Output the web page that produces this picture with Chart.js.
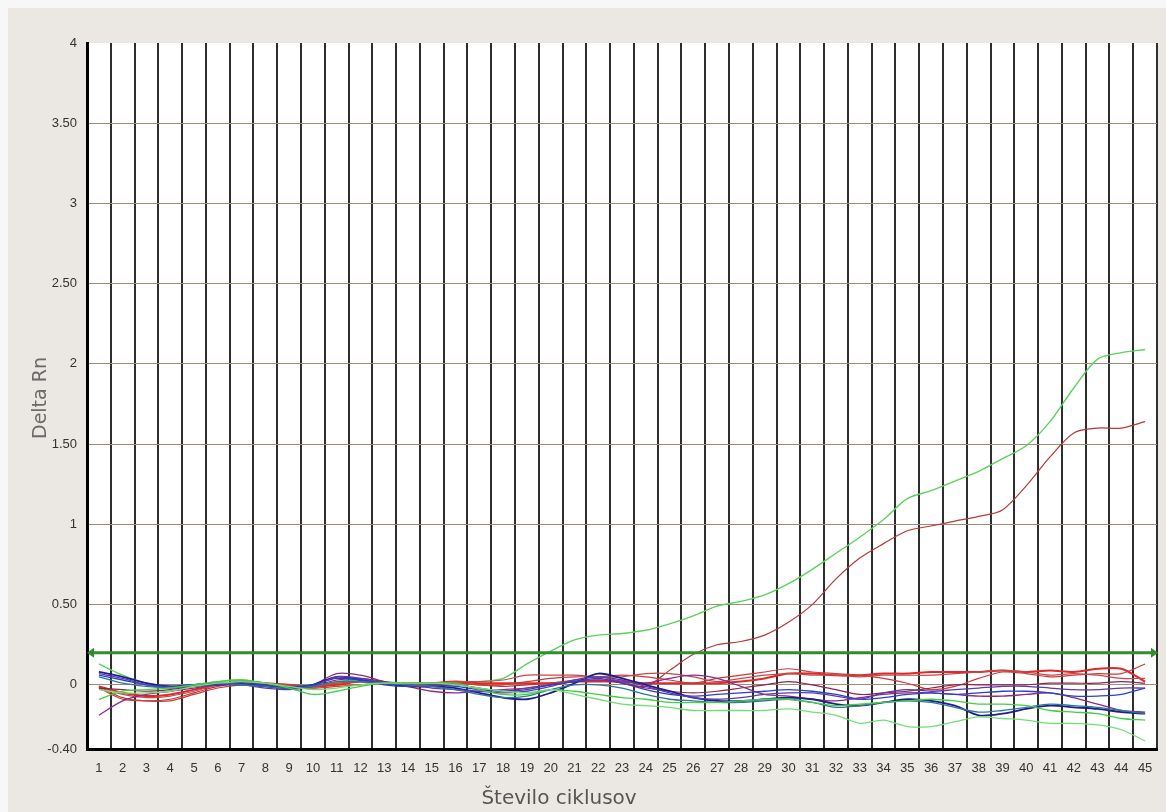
<!DOCTYPE html>
<html>
<head>
<meta charset="utf-8">
<title>Delta Rn</title>
<script src="https://cdn.jsdelivr.net/npm/chart.js@4.4.1/dist/chart.umd.min.js"></script>
<style>
  html, body { margin: 0; padding: 0; background: #f7f7f7; }
  canvas { display: block; }
</style>
</head>
<body>
<canvas id="chart" width="1166" height="812"></canvas>
<script>
// Amplification cycles (x categories)
const cycles = ['1','2','3','4','5','6','7','8','9','10','11','12','13','14','15',
  '16','17','18','19','20','21','22','23','24','25','26','27','28','29','30',
  '31','32','33','34','35','36','37','38','39','40','41','42','43','44','45'];

// Y axis ticks and their printed labels
const yTickValues = [-0.4, 0, 0.5, 1, 1.5, 2, 2.5, 3, 3.5, 4];
const yTickLabels = ['-0.40', '0', '0.50', '1', '1.50', '2', '2.50', '3', '3.50', '4'];

// Threshold level
const THRESHOLD = 0.2;

// Delta Rn per cycle, one array per well
const greenHigh = [0.13,0.06,0.01,-0.01,0.00,0.02,0.03,0.01,-0.01,-0.02,
  0.02,0.03,0.02,0.01,0.01,0.01,0.02,0.04,0.13,0.21,
  0.28,0.31,0.32,0.34,0.38,0.43,0.49,0.52,0.56,0.63,
  0.72,0.82,0.92,1.03,1.16,1.21,1.27,1.33,1.41,1.49,
  1.64,1.85,2.03,2.07,2.09];
const redHigh = [-0.01,-0.08,-0.10,-0.09,-0.05,-0.01,0.01,0.00,-0.01,-0.01,
  0.01,0.02,0.01,0.00,0.00,0.01,0.00,-0.01,0.00,0.01,
  0.03,0.05,0.02,-0.01,0.09,0.19,0.25,0.27,0.31,0.39,
  0.50,0.66,0.79,0.88,0.96,0.99,1.02,1.05,1.09,1.24,
  1.42,1.57,1.60,1.60,1.64];
const red1 = [-0.01,-0.05,-0.07,-0.06,-0.03,0.00,0.02,0.01,0.00,-0.01,
  0.00,0.02,0.01,0.01,0.01,0.02,0.01,0.01,0.01,0.01,
  0.02,0.02,0.02,0.01,0.01,0.01,0.01,0.02,0.04,0.07,
  0.07,0.06,0.06,0.07,0.07,0.08,0.08,0.08,0.09,0.08,
  0.09,0.08,0.10,0.10,0.02];
const red2 = [-0.02,-0.09,-0.10,-0.10,-0.06,-0.02,0.00,0.00,-0.01,-0.02,
  -0.01,0.00,0.01,0.00,0.00,0.01,0.00,0.00,0.02,0.04,
  0.05,0.05,0.06,0.05,0.03,0.01,0.04,0.06,0.08,0.10,
  0.08,0.07,0.06,0.04,0.01,-0.03,-0.01,0.04,0.08,0.07,
  0.05,0.06,0.07,0.07,0.13];
const red3 = [-0.01,-0.06,-0.08,-0.07,-0.04,0.00,0.01,0.01,0.00,-0.01,
  0.01,0.02,0.01,0.00,0.01,0.02,0.02,0.03,0.06,0.06,
  0.06,0.05,0.05,0.07,0.07,0.05,0.02,0.04,0.06,0.07,
  0.06,0.06,0.05,0.06,0.06,0.06,0.07,0.08,0.09,0.08,
  0.06,0.07,0.06,0.04,0.04];
const maroon = [-0.02,-0.03,-0.04,-0.03,-0.01,0.00,0.01,0.00,-0.02,-0.01,
  0.03,0.04,0.02,0.00,-0.01,0.00,-0.02,-0.04,-0.02,0.00,
  0.02,0.03,0.01,-0.02,-0.04,-0.05,-0.04,-0.02,0.00,0.02,
  0.00,-0.03,-0.06,-0.05,-0.04,-0.02,0.00,0.00,0.00,0.00,
  0.01,0.01,0.01,0.02,0.01];
const purple = [-0.19,-0.10,-0.06,-0.04,-0.02,0.00,0.00,-0.01,-0.02,0.00,
  0.07,0.06,0.02,-0.01,-0.04,-0.05,-0.04,-0.03,-0.02,0.00,
  0.02,0.03,0.02,0.01,0.04,0.06,0.04,-0.01,-0.06,-0.07,
  -0.09,-0.10,-0.08,-0.06,-0.05,-0.05,-0.06,-0.07,-0.07,-0.06,
  -0.05,-0.08,-0.12,-0.16,-0.17];
const navy = [0.08,0.05,0.01,-0.01,0.00,0.00,0.01,-0.01,-0.02,0.00,
  0.05,0.03,0.01,-0.01,-0.01,-0.02,-0.05,-0.08,-0.09,-0.05,
  0.01,0.07,0.04,0.00,-0.04,-0.08,-0.10,-0.10,-0.09,-0.08,
  -0.09,-0.12,-0.13,-0.11,-0.09,-0.10,-0.13,-0.19,-0.18,-0.15,
  -0.13,-0.14,-0.15,-0.17,-0.18];
const blue = [0.06,0.03,0.00,-0.01,0.00,0.01,0.01,0.00,-0.01,0.00,
  0.04,0.03,0.00,-0.01,0.00,-0.01,-0.03,-0.04,-0.03,0.00,
  0.02,0.04,0.01,-0.03,-0.06,-0.07,-0.06,-0.05,-0.04,-0.03,
  -0.04,-0.06,-0.09,-0.08,-0.06,-0.05,-0.06,-0.05,-0.04,-0.04,
  -0.05,-0.07,-0.07,-0.06,-0.02];
const steel = [0.05,0.01,-0.01,-0.02,0.00,0.01,0.00,-0.01,-0.02,-0.01,
  0.02,0.02,0.01,0.00,-0.01,-0.03,-0.06,-0.08,-0.07,-0.03,
  0.00,0.00,-0.02,-0.06,-0.09,-0.10,-0.11,-0.11,-0.10,-0.09,
  -0.11,-0.14,-0.13,-0.11,-0.10,-0.11,-0.14,-0.17,-0.16,-0.14,
  -0.12,-0.13,-0.14,-0.16,-0.18];
const green2 = [-0.09,-0.04,-0.03,-0.02,0.00,0.02,0.03,0.01,-0.02,-0.06,
  -0.04,-0.01,0.01,0.01,0.01,0.01,-0.03,-0.06,-0.06,-0.03,
  -0.04,-0.06,-0.08,-0.09,-0.11,-0.11,-0.11,-0.10,-0.09,-0.09,
  -0.11,-0.13,-0.12,-0.11,-0.10,-0.09,-0.10,-0.12,-0.12,-0.13,
  -0.16,-0.17,-0.18,-0.21,-0.22];
const green3 = [-0.03,-0.05,-0.05,-0.04,-0.01,0.01,0.02,0.01,-0.01,-0.03,
  -0.02,0.00,0.01,0.01,0.01,0.00,-0.02,-0.04,-0.05,-0.03,
  -0.06,-0.09,-0.12,-0.13,-0.14,-0.16,-0.16,-0.16,-0.16,-0.15,
  -0.17,-0.19,-0.24,-0.22,-0.26,-0.26,-0.23,-0.20,-0.21,-0.22,
  -0.24,-0.24,-0.25,-0.28,-0.35];
const violet = [0.07,0.04,0.00,-0.02,-0.01,0.00,0.00,-0.02,-0.03,-0.01,
  0.05,0.04,0.01,0.00,-0.02,-0.03,-0.04,-0.05,-0.04,-0.01,
  0.03,0.05,0.03,-0.01,-0.05,-0.08,-0.09,-0.08,-0.06,-0.05,
  -0.05,-0.07,-0.09,-0.05,-0.03,-0.04,-0.03,-0.02,-0.01,-0.01,
  -0.02,-0.03,-0.03,-0.02,-0.02];

// Well traces: data, colour, stroke width
const wells = [
  { label: 'A1', data: green3,    color: '#74de74', width: 1.3 },
  { label: 'A2', data: green2,    color: '#46cc46', width: 1.3 },
  { label: 'A3', data: steel,     color: '#2f7898', width: 1.3 },
  { label: 'A4', data: violet,    color: '#5a3cb0', width: 1.3 },
  { label: 'A5', data: blue,      color: '#2a40cc', width: 1.3 },
  { label: 'A6', data: navy,      color: '#1e1e8a', width: 1.8 },
  { label: 'A7', data: purple,    color: '#8a2c8a', width: 1.3 },
  { label: 'A8', data: maroon,    color: '#8c2450', width: 1.2 },
  { label: 'A9', data: red3,      color: '#c44a4a', width: 1.2 },
  { label: 'B1', data: red2,      color: '#cc3a3a', width: 1.2 },
  { label: 'B2', data: red1,      color: '#e02828', width: 2.0 },
  { label: 'B3', data: redHigh,   color: '#b23a3a', width: 1.2 },
  { label: 'B4', data: greenHigh, color: '#5cd25c', width: 1.4 }
];

const PLOT_BG = '#ffffff';
const PANEL_BG = '#ebe8e3';
const H_GRID = '#a08a74';
const V_GRID = '#2e2e2e';

// Panel background and white plotting area
const backdrop = {
  id: 'backdrop',
  beforeDraw(chart) {
    const { ctx, chartArea: a, width, height } = chart;
    ctx.save();
    ctx.fillStyle = '#f7f7f7';
    ctx.fillRect(0, 0, width, height);
    ctx.fillStyle = PANEL_BG;
    ctx.fillRect(8, 8, width - 8, height - 8);
    ctx.fillStyle = PLOT_BG;
    ctx.fillRect(a.left, a.top, a.right - a.left, a.bottom - a.top);
    ctx.restore();
  }
};

// Threshold line with arrowheads at both ends
const thresholdLine = {
  id: 'thresholdLine',
  afterDatasetsDraw(chart) {
    const { ctx, chartArea: a, scales: { y } } = chart;
    const py = y.getPixelForValue(THRESHOLD);
    ctx.save();
    ctx.strokeStyle = '#2f8f2f';
    ctx.fillStyle = '#2f8f2f';
    ctx.lineWidth = 3;
    ctx.beginPath();
    ctx.moveTo(a.left + 4, py);
    ctx.lineTo(a.right - 4, py);
    ctx.stroke();
    ctx.beginPath();
    ctx.moveTo(a.left, py);
    ctx.lineTo(a.left + 7, py - 5);
    ctx.lineTo(a.left + 7, py + 5);
    ctx.closePath();
    ctx.fill();
    ctx.beginPath();
    ctx.moveTo(a.right + 1, py);
    ctx.lineTo(a.right - 6, py - 5);
    ctx.lineTo(a.right - 6, py + 5);
    ctx.closePath();
    ctx.fill();
    ctx.restore();
  }
};

// Axis titles
const axisTitles = {
  id: 'axisTitles',
  afterDraw(chart) {
    const { ctx } = chart;
    ctx.save();
    ctx.fillStyle = '#555555';
    ctx.font = '20px "DejaVu Sans"';
    ctx.textAlign = 'center';
    ctx.textBaseline = 'middle';
    ctx.fillText('Število ciklusov', 559, 799);
    ctx.translate(41, 398);
    ctx.rotate(-Math.PI / 2);
    ctx.fillStyle = '#6a6a6a';
    ctx.font = '19px "DejaVu Sans"';
    ctx.fillText('Delta Rn', 0, 0);
    ctx.restore();
  }
};

new Chart(document.getElementById('chart'), {
  type: 'line',
  data: {
    labels: cycles,
    datasets: wells.map(w => ({
      label: w.label,
      data: w.data,
      borderColor: w.color,
      backgroundColor: w.color,
      borderWidth: w.width,
      pointRadius: 0,
      pointHoverRadius: 0,
      tension: 0.3,
      fill: false,
      borderJoinStyle: 'round'
    }))
  },
  options: {
    responsive: false,
    animation: false,
    devicePixelRatio: 1,
    layout: { padding: { left: 7, top: 43, right: 9, bottom: 0 } },
    plugins: {
      legend: { display: false },
      tooltip: { enabled: false },
      title: { display: false }
    },
    scales: {
      x: {
        type: 'category',
        offset: true,
        afterFit(scale) { scale.height = 63; },
        grid: {
          offset: true,
          color: V_GRID,
          lineWidth: 2,
          drawTicks: false
        },
        border: { display: true, color: '#000000', width: 3 },
        ticks: {
          autoSkip: false,
          maxRotation: 0,
          padding: 12,
          color: '#333333',
          font: { family: '"Liberation Sans", Arial, sans-serif', size: 13 }
        }
      },
      y: {
        type: 'linear',
        min: -0.4,
        max: 4,
        afterFit(scale) { scale.width = 80; },
        afterBuildTicks(scale) {
          scale.ticks = yTickValues.map(v => ({ value: v }));
        },
        grid: {
          color: ctx => (ctx.tick && (ctx.tick.value === 4 || ctx.tick.value === -0.4))
            ? 'rgba(0,0,0,0)' : H_GRID,
          lineWidth: 1,
          drawTicks: false
        },
        border: { display: true, color: '#000000', width: 3 },
        ticks: {
          padding: 10,
          color: '#333333',
          font: { family: '"Liberation Sans", Arial, sans-serif', size: 13 },
          callback: value => {
            const i = yTickValues.indexOf(value);
            return i >= 0 ? yTickLabels[i] : '';
          }
        }
      }
    }
  },
  plugins: [backdrop, thresholdLine, axisTitles]
});
</script>
</body>
</html>
